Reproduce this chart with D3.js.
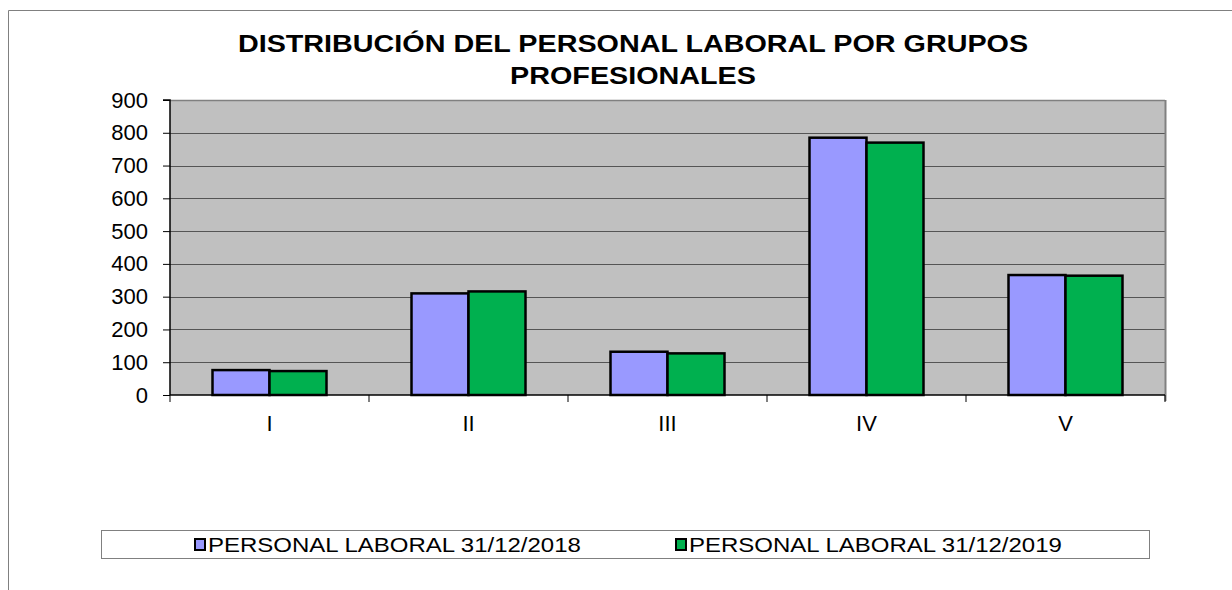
<!DOCTYPE html>
<html><head><meta charset="utf-8">
<script src="https://cdn.jsdelivr.net/npm/d3@7"></script>
<style>body{margin:0;background:#fff}svg{display:block;font-family:"Liberation Sans",Arial,sans-serif}</style>
</head><body>
<svg id="c" width="1232" height="590"></svg>
<script>
const categories = ["I","II","III","IV","V"];
const series2018 = [76, 310, 132, 785, 366];
const series2019 = [73, 316, 127, 770, 364];
const seriesNames = ["PERSONAL LABORAL 31/12/2018","PERSONAL LABORAL 31/12/2019"];
const yTicks = [0,100,200,300,400,500,600,700,800,900];
const title = ["DISTRIBUCIÓN DEL PERSONAL LABORAL POR GRUPOS","PROFESIONALES"];

const svg = d3.select("#c");
// outer frame
svg.append("path").attr("d","M8.5,595 V10.5 H1240").attr("fill","none").attr("stroke","#808080").attr("stroke-width",1);

const m = {l:170, t:100, r:1165, b:395};
const x = d3.scaleBand().domain(categories).range([m.l,m.r]);
const y = d3.scaleLinear().domain([0,900]).range([m.b,m.t]);
const colors = ["#9999ff","#00b04f"];

svg.append("rect").attr("x",m.l).attr("y",m.t).attr("width",m.r-m.l).attr("height",m.b-m.t).attr("fill","#c0c0c0");
// gridlines
svg.append("g").selectAll("line").data(yTicks.filter(d=>d>0)).join("line")
  .attr("x1",m.l).attr("x2",m.r).attr("y1",d=>Math.round(y(d))+0.5).attr("y2",d=>Math.round(y(d))+0.5)
  .attr("stroke",d=>d===900?"#808080":"#555").attr("stroke-width",d=>d===900?1.5:1);
// right border
svg.append("line").attr("x1",m.r+0.5).attr("x2",m.r+0.5).attr("y1",m.t).attr("y2",m.b+6).attr("stroke","#808080").attr("stroke-width",2);

// bars
const inner = 57;
const data = categories.map((c,i)=>({c, v:[series2018[i],series2019[i]]}));
const g = svg.append("g");
data.forEach(d=>{
  const cx = x(d.c)+x.bandwidth()/2;
  d.v.forEach((v,j)=>{
    g.append("rect").attr("x",cx-inner+j*inner).attr("y",y(v)).attr("width",inner).attr("height",y(0)-y(v))
      .attr("fill",colors[j]).attr("stroke","#000").attr("stroke-width",2.5);
  });
});

// y axis
const ya = svg.append("g").attr("transform",`translate(${m.l},0)`)
  .call(d3.axisLeft(y).tickValues(yTicks).tickSize(7).tickPadding(15).tickFormat(d3.format("d")));
ya.select(".domain").attr("stroke","#000").attr("stroke-width",1.5).attr("d",`M-7,${m.t}H0V${m.b}`);
ya.selectAll(".tick line").attr("stroke","#000");
ya.selectAll("text").attr("font-size",22).attr("font-family","Liberation Sans, Arial, sans-serif").attr("fill","#000");

// x axis
const xa = svg.append("g").attr("transform",`translate(0,${m.b})`)
  .call(d3.axisBottom(x).tickSize(0).tickPadding(20));
xa.select(".domain").attr("stroke","#000").attr("stroke-width",1.5).attr("d",`M${m.l},0H${m.r}`);
xa.selectAll("text").attr("font-size",22).attr("font-family","Liberation Sans, Arial, sans-serif").attr("fill","#000");
const bounds = [m.l].concat(categories.map(c=>x(c)+x.bandwidth()));
svg.append("g").selectAll("line").data(bounds).join("line")
  .attr("x1",d=>d).attr("x2",d=>d).attr("y1",m.b).attr("y2",m.b+7).attr("stroke","#000").attr("stroke-width",1);

// title (horizontally stretched like the original rendering)
title.forEach((t,i)=>{
  svg.append("text").attr("transform",`translate(633,${52+i*32}) scale(1.25,1)`)
    .attr("text-anchor","middle").attr("font-weight","bold").attr("font-size",23).text(t);
});

// legend
const lg = svg.append("g");
lg.append("rect").attr("x",101.5).attr("y",530.5).attr("width",1048).attr("height",28).attr("fill","#fff").attr("stroke","#808080");
const lx = [194, 675];
seriesNames.forEach((n,i)=>{
  lg.append("rect").attr("x",lx[i]+1).attr("y",539).attr("width",10).attr("height",11).attr("fill",colors[i]).attr("stroke","#000").attr("stroke-width",2);
  lg.append("text").attr("transform",`translate(${lx[i]+14},552) scale(1.2,1)`).attr("font-size",20).text(n);
});
</script>
</body></html>
